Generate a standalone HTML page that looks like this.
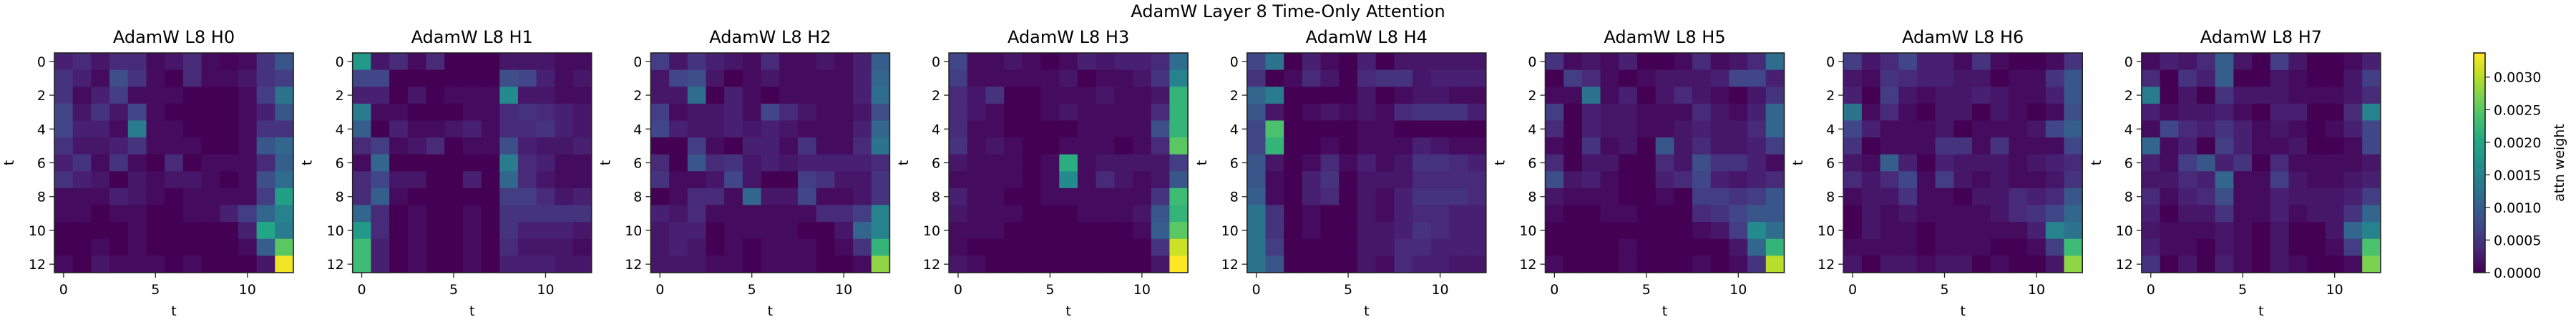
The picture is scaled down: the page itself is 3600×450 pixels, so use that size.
<!DOCTYPE html>
<html><head><meta charset="utf-8"><style>
html,body{margin:0;padding:0;background:#fff;}
svg{display:block;font-family:"DejaVu Sans","Liberation Sans",sans-serif;}
</style></head><body>
<svg id="chart" width="3600" height="450" viewBox="0 0 3600 450" xmlns="http://www.w3.org/2000/svg">
<text x="1800" y="24" font-size="24" text-anchor="middle" fill="#000">AdamW Layer 8 Time-Only Attention</text>
</svg>
<script>
// values in units of 1e-4
const headTitles = ["AdamW L8 H0","AdamW L8 H1","AdamW L8 H2","AdamW L8 H3","AdamW L8 H4","AdamW L8 H5","AdamW L8 H6","AdamW L8 H7"];
const yTicks = [0,2,4,6,8,10,12];
const xTicks = [0,5,10];
const cbTicks = [0,5,10,15,20,25,30];
const cbTickLabels = ["0.0000","0.0005","0.0010","0.0015","0.0020","0.0025","0.0030"];
const vmax = 33.7;
const H0 = [
[3,4,2,4,4,1,2,4,1,0.5,1,5,9],[5,3,1,8,5,1,0,4,1,1,2,5,6],[5,1,3,6,1,1,1,0,0,0,1,6,13],[7,2,5,2,7,1,0,0,0,0,1,3,9],
[7,3,3,1,14,1,1,0,0,0,1,5,5],[5,2,2,3,5,1,1,1,0,0,1,9,11],[3,5,1,5,1,0,4,0,1,1,1,4,10],[5,3,2,0,2,1,2,2,1,0,1,8,12],
[1,1,1,3,2,1,0,1,1,1,1,6,19],[1,1,0,1,1,0,0,1,1,3,6,11,15],[0,0,0,0,1,0,0,0,0,0,3,20,14],[0,0,1,0,1,0,0,0,0,0,1,10,25],
[1,0,2,1,1,1,0,1,0,0,0,2,33]];
const H1 = [
[18,2,4,1,4,0,0,0,2,2,2,1,1],[7,7,0,0,0,0,0,0,8,7,3,1,2],[3,3,0,2,0,1,1,1,16,2,2,1,1],[14,1,1,0,0,0,1,1,4,5,4,3,2],
[10,0,3,1,1,2,3,1,4,4,5,3,2],[4,6,1,2,4,0,1,1,8,3,2,2,3],[1,11,0,0,0,0,0,0,14,4,3,1,1],[4,7,2,2,0,0,3,0,11,4,2,1,1],
[4,10,1,0,0,0,0,0,6,6,4,2,3],[11,4,0,1,0,0,1,0,5,5,5,5,5],[18,4,0,1,0,0,1,0,5,3,3,3,2],[23,3,0,1,0,0,1,0,4,2,2,2,1],
[23,3,0,1,0,0,1,0,3,3,3,2,2]];
const H2 = [
[6,2,5,3,2,1,4,1,1,2,1,3,10],[2,7,8,2,0,1,2,1,1,1,1,3,11],[2,2,12,0,3,1,0,1,1,1,1,3,12],[6,1,2,2,3,1,7,4,2,1,1,2,8],
[7,3,2,2,3,2,3,2,1,1,1,3,11],[0,0,6,1,0,3,3,1,5,1,1,4,13],[4,0,9,4,5,2,3,2,3,3,3,3,4],[5,1,1,2,7,2,0,0,6,5,2,2,5],
[0,1,4,4,1,11,2,2,7,1,1,2,5],[3,2,4,1,1,1,1,1,1,4,4,6,15],[2,3,3,0,1,1,1,1,0,0,2,11,15],[2,3,2,0,1,0,1,1,1,0,1,5,22],
[2,2,2,1,1,0,1,1,1,0,0,1,28]];
const H3 = [
[7,1,1,2,1,0,1,3,2,3,3,4,12],[6,1,1,1,1,1,2,0,1,1,2,5,15],[4,2,5,0,0,1,1,1,2,1,1,2,22],[4,2,1,0,0,1,2,1,1,1,1,4,22],
[4,1,1,0,0,0,0,1,1,1,1,8,22],[5,1,2,1,0,0,1,1,1,0,1,4,25],[2,1,1,1,0,1,21,1,2,2,2,2,6],[1,1,1,1,0,1,16,1,4,2,1,2,9],
[3,1,1,0,0,1,1,1,1,1,1,5,23],[2,1,1,1,0,0,0,1,1,1,2,9,22],[1,1,1,0,0,0,0,0,0,0,1,10,25],[1,0,0,0,0,0,0,0,0,0,0,5,31],
[2,1,0,0,0,0,0,0,0,0,0,2,34]];
const H4 = [
[7,13,0,3,1,0,3,0,2,2,2,2,2],[5,0,1,4,2,0,4,5,5,2,3,3,3],[11,14,0,0,0,0,2,0,1,2,2,1,1],[9,2,0,1,2,1,2,1,4,5,5,5,3],
[7,24,0,0,0,0,1,1,0,0,0,0,0],[7,22,0,0,1,0,1,1,1,3,2,1,1],[9,2,0,1,4,1,3,1,2,5,5,4,3],[9,1,0,3,5,0,2,2,2,4,4,4,4],
[10,1,0,3,4,0,2,1,3,5,5,5,4],[13,5,0,1,0,0,2,1,3,4,4,3,3],[13,5,0,1,0,0,2,2,3,5,4,3,3],[13,6,0,0,0,0,2,2,4,4,3,3,3],
[13,9,0,0,0,0,2,1,4,3,3,2,2]];
const H5 = [
[5,1,2,1,3,0,0,1,4,1,2,4,12],[0,6,4,1,0,1,2,2,2,3,7,7,3],[1,1,13,1,3,0,2,4,2,1,0,2,5],[6,0,3,2,2,1,1,1,4,2,1,3,11],
[4,0,3,2,2,1,1,2,3,2,2,4,11],[1,0,5,1,2,0,9,2,4,2,2,3,6],[4,0,2,2,0,0,4,2,8,5,5,3,1],[8,2,3,1,0,0,3,4,7,3,2,3,4],
[2,1,1,1,0,0,1,0,6,6,5,6,9],[1,0,0,1,1,0,0,0,4,5,7,9,9],[0,0,0,0,0,0,0,0,1,2,6,16,12],[0,0,0,0,1,0,0,0,0,0,2,11,22],
[1,0,0,0,1,0,0,0,1,0,1,5,30]];
const H6 = [
[6,2,4,7,3,3,1,5,1,0,0,1,5],[2,1,5,4,3,3,2,2,0,1,1,5,9],[3,0,6,2,1,2,2,3,2,1,1,3,9],[13,1,4,1,0,2,2,0,2,1,0,1,8],
[7,3,1,1,1,2,0,1,1,1,2,7,10],[5,0,1,1,1,5,5,1,5,1,1,1,7],[2,1,10,3,0,3,2,2,2,1,2,3,4],[4,2,4,7,1,6,2,1,2,1,1,2,5],
[1,2,2,5,1,1,0,2,2,4,3,4,9],[0,2,1,2,1,1,1,1,2,4,5,7,11],[0,2,1,1,0,1,1,1,1,1,3,15,13],[1,1,1,1,0,1,1,1,0,0,1,6,23],
[2,0,2,2,1,2,2,0,1,0,0,2,28]];
const H7 = [
[1,3,2,4,10,2,0,6,2,0,0,1,3],[4,0,5,3,10,0,0,2,1,0,0,2,6],[14,0,2,0,5,2,2,2,1,1,1,2,4],[3,1,2,2,3,1,0,3,3,0,0,4,15],
[1,7,4,3,5,3,1,2,1,0,1,3,7],[11,1,3,0,6,3,1,1,2,0,0,1,7],[3,1,6,9,3,5,0,4,1,1,1,1,2],[2,2,4,3,11,1,1,6,2,1,1,2,3],
[4,1,3,4,8,1,1,3,2,2,2,3,6],[3,0,2,2,5,1,1,3,1,2,2,5,11],[2,1,1,1,2,1,0,2,0,0,2,11,15],[3,1,1,0,2,1,0,2,0,0,1,6,24],
[5,0,2,0,3,1,0,2,1,0,0,1,27]];
const heads = [H0,H1,H2,H3,H4,H5,H6,H7];

const VIR = ["#440154","#482475","#414487","#355f8d","#2a788e","#21918c","#22a884","#44bf70","#7ad151","#bddf26","#fde725"];
function hex(h){return [parseInt(h.substr(1,2),16),parseInt(h.substr(3,2),16),parseInt(h.substr(5,2),16)];}
function viridis(t){t=Math.max(0,Math.min(1,t));const p=t*(VIR.length-1);const i=Math.min(VIR.length-2,Math.floor(p));const f=p-i;
const a=hex(VIR[i]),b=hex(VIR[i+1]);return "rgb("+a.map((v,k)=>Math.round(v+(b[k]-v)*f)).join(",")+")";}

const NS="http://www.w3.org/2000/svg";
const svg=document.getElementById("chart");
function mk(tag,attrs,parent){const e=document.createElementNS(NS,tag);for(const k in attrs)e.setAttribute(k,attrs[k]);(parent||svg).appendChild(e);return e;}

const AX_L=76, AX_STEP=416.7, AX_W=334, AX_T=74, AX_H=307, N=13;
heads.forEach((M,h)=>{
  const x0=AX_L+h*AX_STEP;
  const g=mk("g",{});
  
  
  const cw=AX_W/N, ch=AX_H/N;
  const xs=c=>x0+(c+0.5)*cw, ys=r=>AX_T+(r+0.5)*ch;
  M.forEach((row,r)=>row.forEach((v,c)=>{
    const rc=mk("rect",{x:(xs(c)-cw/2).toFixed(2),y:(ys(r)-ch/2).toFixed(2),width:(cw+0.6).toFixed(2),height:(ch+0.6).toFixed(2),fill:viridis(v/vmax)},g);
    
    
  }));
  const fr=mk("rect",{x:x0,y:AX_T,width:AX_W,height:AX_H,fill:"none",stroke:"#222","stroke-width":1.6},g);
  
  
  const tt=mk("text",{x:x0+AX_W/2,y:AX_T-14,"font-size":24,"text-anchor":"middle",fill:"#000"},g);
  tt.textContent=headTitles[h];
  
  
  yTicks.forEach(t=>{
    mk("line",{x1:x0,x2:x0-7,y1:ys(t),y2:ys(t),stroke:"#222","stroke-width":1.3},g);
    const tl=mk("text",{x:x0-12,y:ys(t)+7,"font-size":19,"text-anchor":"end",fill:"#000"},g);
    tl.textContent=t;
    
    
  });
  xTicks.forEach(t=>{
    mk("line",{x1:xs(t),x2:xs(t),y1:AX_T+AX_H,y2:AX_T+AX_H+7,stroke:"#222","stroke-width":1.3},g);
    const tl=mk("text",{x:xs(t),y:AX_T+AX_H+30,"font-size":19,"text-anchor":"middle",fill:"#000"},g);
    tl.textContent=t;
    
    
  });
  const xl=mk("text",{x:x0+AX_W/2,y:AX_T+AX_H+60,"font-size":19,"text-anchor":"middle",fill:"#000"},g);
  xl.textContent="t";
  
  
  const yl=mk("text",{x:0,y:0,"font-size":19,"text-anchor":"middle",fill:"#000",transform:"translate("+(x0-57)+","+(AX_T+AX_H/2)+") rotate(-90)"},g);
  yl.textContent="t";
  
  
});

// colorbar
const CB_X=3457, CB_W=16, CB_T=74, CB_H=307;
const cb=mk("g",{});


const cy=v=>CB_T+CB_H-(v/vmax)*CB_H;
const defs=mk("defs",{},cb);
const lg=mk("linearGradient",{id:"vg",x1:0,y1:1,x2:0,y2:0},defs);
VIR.forEach((c,i)=>mk("stop",{offset:(i/(VIR.length-1)),"stop-color":c},lg));
mk("rect",{x:CB_X,y:CB_T,width:CB_W,height:CB_H,fill:"url(#vg)",stroke:"#222","stroke-width":1.6},cb);
cbTicks.forEach((t,i)=>{
  mk("line",{x1:CB_X+CB_W,x2:CB_X+CB_W+7,y1:cy(t),y2:cy(t),stroke:"#222","stroke-width":1.3},cb);
  const tl=mk("text",{x:CB_X+CB_W+12,y:cy(t)+7,"font-size":19,fill:"#000"},cb);
  tl.textContent=cbTickLabels[i];
  
  
});
const cl=mk("text",{x:0,y:0,"font-size":19,"text-anchor":"middle",fill:"#000",transform:"translate(3583,"+(CB_T+CB_H/2)+") rotate(-90)"},cb);
cl.textContent="attn weight";


</script>
</body></html>
